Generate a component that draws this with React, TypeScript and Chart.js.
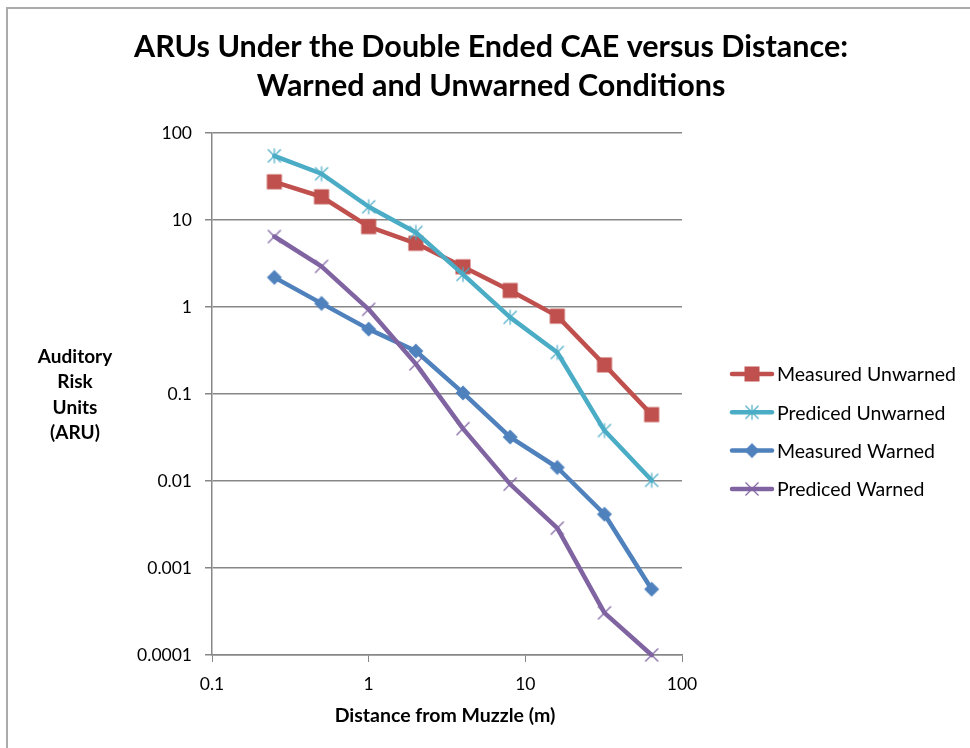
import React, { useEffect, useRef } from 'react';
import { Chart, registerables } from 'chart.js';

Chart.register(...registerables);

// ---- Data ----
const distances = [0.25, 0.5, 1, 2, 4, 8, 16, 32, 64];
const measuredUnwarned = [27.5, 18.5, 8.4, 5.4, 2.9, 1.55, 0.785, 0.216, 0.058];
const predicedUnwarned = [54.6, 34, 14.2, 7.2, 2.37, 0.76, 0.3, 0.038, 0.0102];
const measuredWarned = [2.19, 1.1, 0.557, 0.312, 0.103, 0.032, 0.0143, 0.00415, 0.00057];
const predicedWarned = [6.46, 2.93, 0.94, 0.222, 0.04, 0.0092, 0.00287, 0.000305, 0.0001];

const seriesNames = ['Measured Unwarned', 'Prediced Unwarned', 'Measured Warned', 'Prediced Warned'];
const seriesColors = ['#C0504D', '#4BACC6', '#4F81BD', '#8064A2'];
const markerKinds = ['square', 'star', 'diamond', 'x'];

const xTickValues = [0.1, 1, 10, 100];
const xTickLabels = ['0.1', '1', '10', '100'];
const yTickValues = [0.0001, 0.001, 0.01, 0.1, 1, 10, 100];
const yTickLabels = ['0.0001', '0.001', '0.01', '0.1', '1', '10', '100'];

const titleLines = ['ARUs Under the Double Ended CAE versus Distance:', 'Warned and Unwarned Conditions'];
const yTitleLines = ['Auditory', 'Risk', 'Units', '(ARU)'];
const xTitle = 'Distance from Muzzle (m)';

const FONT = 'Lato, "Open Sans", "DejaVu Sans", sans-serif';

function makeMarker(kind: string, color: string): HTMLCanvasElement {
  const size = 20;
  const c = document.createElement('canvas');
  c.width = size;
  c.height = size;
  const ctx = c.getContext('2d')!;
  const m = size / 2;
  ctx.fillStyle = color;
  ctx.strokeStyle = color;
  if (kind === 'square') {
    const h = 7.5;
    ctx.fillRect(m - h, m - h, 2 * h, 2 * h);
  } else if (kind === 'diamond') {
    const h = 7.5;
    ctx.beginPath();
    ctx.moveTo(m, m - h);
    ctx.lineTo(m + h, m);
    ctx.lineTo(m, m + h);
    ctx.lineTo(m - h, m);
    ctx.closePath();
    ctx.fill();
  } else if (kind === 'star') {
    const h = 6.5;
    ctx.lineWidth = 1.2;
    ctx.beginPath();
    ctx.moveTo(m - h, m - h);
    ctx.lineTo(m + h, m + h);
    ctx.moveTo(m + h, m - h);
    ctx.lineTo(m - h, m + h);
    ctx.moveTo(m, m - h - 1);
    ctx.lineTo(m, m + h + 1);
    ctx.stroke();
  } else {
    const h = 6.5;
    ctx.lineWidth = 1.2;
    ctx.beginPath();
    ctx.moveTo(m - h, m - h);
    ctx.lineTo(m + h, m + h);
    ctx.moveTo(m + h, m - h);
    ctx.lineTo(m - h, m + h);
    ctx.stroke();
  }
  return c;
}

export default function App() {
  const ref = useRef<HTMLCanvasElement | null>(null);

  useEffect(() => {
    if (!ref.current) return;
    const markers = markerKinds.map((k, i) => makeMarker(k, seriesColors[i]));
    const allValues = [measuredUnwarned, predicedUnwarned, measuredWarned, predicedWarned];

    const overlay = {
      id: 'overlay',
      afterDraw(chart: any) {
        const ctx = chart.ctx;
        ctx.save();
        ctx.fillStyle = '#000';
        ctx.textAlign = 'center';
        ctx.textBaseline = 'middle';
        // main title
        ctx.font = `bold 30.5px ${FONT}`;
        ctx.fillText(titleLines[0], 491, 47);
        ctx.fillText(titleLines[1], 491, 86);
        // y title
        ctx.font = `bold 19px ${FONT}`;
        yTitleLines.forEach((t, i) => ctx.fillText(t, 75, 357 + i * 25.3));
        // x title
        ctx.font = `bold 19.5px ${FONT}`;
        ctx.fillText(xTitle, 445, 716);
        // legend
        ctx.textAlign = 'left';
        ctx.font = `19.5px ${FONT}`;
        seriesNames.forEach((name, i) => {
          const y = 374 + i * 38.3;
          ctx.strokeStyle = seriesColors[i];
          ctx.lineWidth = 4.5;
          ctx.lineCap = 'round';
          ctx.beginPath();
          ctx.moveTo(732, y);
          ctx.lineTo(772, y);
          ctx.stroke();
          const mk = markers[i];
          ctx.drawImage(mk, 752 - mk.width / 2, y - mk.height / 2);
          ctx.fillStyle = '#000';
          ctx.fillText(name, 777, y + 1);
        });
        ctx.restore();
      },
    };

    const chart = new Chart(ref.current, {
      type: 'line',
      data: {
        datasets: seriesNames.map((name, i) => ({
          label: name,
          data: distances.map((d, j) => ({ x: d, y: allValues[i][j] })),
          borderColor: seriesColors[i],
          backgroundColor: seriesColors[i],
          borderWidth: 4.5,
          borderJoinStyle: 'round',
          borderCapStyle: 'round',
          tension: 0,
          pointStyle: markers[i],
          pointRadius: 7,
          order: 4 - i,
          clip: false,
        })),
      },
      options: {
        animation: false,
        responsive: false,
        maintainAspectRatio: false,
        layout: { padding: { left: 0, top: 133, right: 288, bottom: 0 } },
        plugins: {
          legend: { display: false },
          title: { display: false },
          tooltip: { enabled: false },
        },
        scales: {
          x: {
            type: 'logarithmic',
            min: 0.1,
            max: 100,
            afterBuildTicks: (s: any) => {
              s.ticks = xTickValues.map((v) => ({ value: v }));
            },
            afterFit: (s: any) => {
              s.height = 93;
            },
            grid: { drawOnChartArea: false, drawTicks: true, tickLength: 7, color: '#878787', lineWidth: 1 },
            border: { color: '#878787', width: 1.5 },
            ticks: {
              autoSkip: false,
              maxRotation: 0,
              padding: 12,
              color: '#000',
              font: { family: FONT, size: 17.5 },
              callback: (_v: any, idx: number) => xTickLabels[idx],
            },
          },
          y: {
            type: 'logarithmic',
            min: 0.0001,
            max: 100,
            afterBuildTicks: (s: any) => {
              s.ticks = yTickValues.map((v) => ({ value: v }));
            },
            afterFit: (s: any) => {
              s.width = 212;
            },
            grid: { drawOnChartArea: true, drawTicks: true, tickLength: 7, color: '#878787', lineWidth: 1.5 },
            border: { color: '#878787', width: 1.5 },
            ticks: {
              autoSkip: false,
              padding: 13,
              color: '#000',
              font: { family: FONT, size: 17.5 },
              callback: (_v: any, idx: number) => yTickLabels[idx],
            },
          },
        },
      },
      plugins: [overlay],
    } as any);

    return () => chart.destroy();
  }, []);

  return (
    <div style={{ position: 'absolute', left: 0, top: 0, width: 970, height: 748, overflow: 'hidden', background: '#fff' }}>
      <div
        style={{
          position: 'absolute',
          left: 6,
          top: 7,
          width: 1000,
          height: 800,
          borderLeft: '2px solid #ababab',
          borderTop: '2px solid #ababab',
        }}
      />
      <canvas ref={ref} width={970} height={748} style={{ position: 'absolute', left: 0, top: 0, width: 970, height: 748 }} />
    </div>
  );
}
